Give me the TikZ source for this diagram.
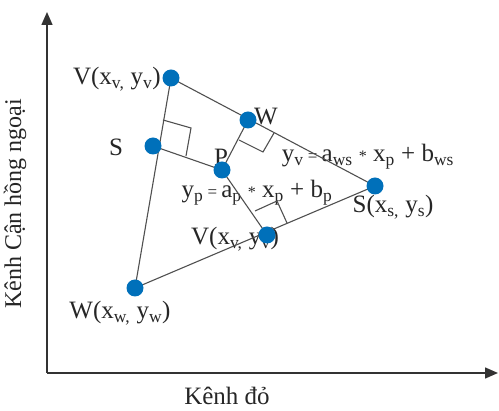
\documentclass[tikz,border=0pt]{standalone}
\usepackage{fontspec}
\setmainfont{Liberation Serif}
\usetikzlibrary{arrows.meta,backgrounds}
\newcommand{\sbs}[1]{\textsubscript{#1}}
\definecolor{dotblue}{RGB}{0,112,186}
\definecolor{linegray}{RGB}{80,80,80}
\begin{document}
\begin{tikzpicture}[x=1pt,y=-1pt,
  dot/.style={circle,fill=dotblue,inner sep=0pt,minimum size=17pt},
  edge/.style={draw=linegray,line width=1.1pt},
  rmark/.style={draw=linegray,line width=1.1pt},
  lbl/.style={font=\fontsize{25}{28}\selectfont,text=black!85,inner sep=0pt},
  axis/.style={draw=black!80,line width=1.5pt,-{Triangle[length=13pt,width=11pt]}}]
\useasboundingbox (0,0) rectangle (499,411);
% axes
\coordinate (O) at (47,373);
\coordinate (Xe) at (498,373);
\coordinate (Ye) at (47,12);
\draw[axis] (O) -- (Xe);
\draw[axis] (O) -- (Ye);
% points
\node[dot] (Vt) at (171,78) {};
\node[dot] (Wu) at (248,120) {};
\node[dot] (Sl) at (153,146) {};
\node[dot] (P)  at (222,170) {};
\node[dot] (Sr) at (375,186) {};
\node[dot] (Vl) at (267,235) {};
\node[dot] (Wb) at (135,288) {};
\begin{scope}[on background layer]
% labels
\node[lbl,anchor=east] (lVt) at (161,79) {V(x\sbs{v,}\ y\sbs{v})};
\node[lbl] (lSl) at (116,147) {S};
\node[lbl] (lWu) at (266,117) {W};
\node[lbl] (lP) at (221,157) {P};
\node[lbl] (eq1) at (368,157) {y\sbs{v}\,{\fontsize{17}{20}\selectfont=}\,a\sbs{ws} {\fontsize{16}{20}\selectfont*} x\sbs{p} + b\sbs{ws}};
\node[lbl] (eq2) at (257,193) {y\sbs{p}\,{\fontsize{17}{20}\selectfont=}\,a\sbs{p} {\fontsize{16}{20}\selectfont*} x\sbs{p} + b\sbs{p}};
\node[lbl] (lSr) at (393,207) {S(x\sbs{s,}\ y\sbs{s})};
\node[lbl] (lVl) at (235,239) {V(x\sbs{v,}\ y\sbs{v})};
\node[lbl] (lWb) at (120,313) {W(x\sbs{w,}\ y\sbs{w})};
\node[lbl,anchor=base] (xl) at (227,405) {Kênh đỏ};
\node[lbl,rotate=90,font=\fontsize{24}{27}\selectfont] (yl) at (15,204) {Kênh Cận hồng ngoại};
% triangle
\draw[edge] (Vt.center) -- (Sr.center) -- (Wb.center) -- cycle;
% perpendiculars
\draw[edge] (P.center) -- (Sl.center);
\draw[edge] (P.center) -- (Wu.center);
\draw[edge] (P.center) -- (Vl.center);
% right angle marks
\draw[rmark] (163,120) -- (191,128) -- (186,156);
\draw[rmark] (239,140) -- (263,152) -- (274,133);
\draw[rmark] (255,211) -- (277,201) -- (287,223);
\end{scope}
\end{tikzpicture}
\end{document}
